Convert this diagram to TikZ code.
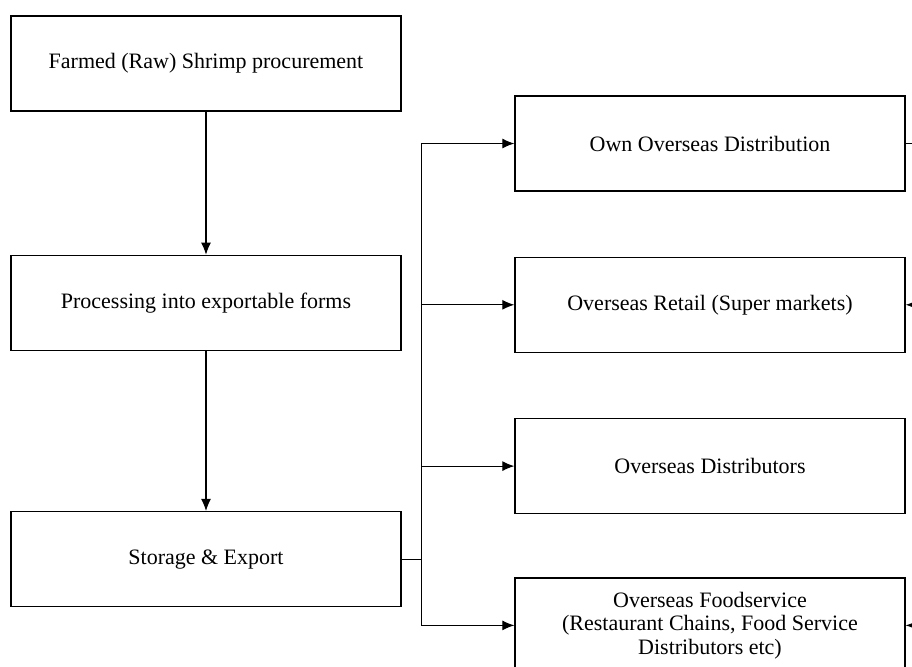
\documentclass[tikz,border=0pt]{standalone}
\usepackage{fontspec}
\setmainfont{Liberation Serif}
\usetikzlibrary{positioning, arrows.meta}

\begin{document}
\begin{tikzpicture}[node distance=32.5pt, >={Latex[length=6pt,width=5pt]}, line width=0.55pt,
    stage/.style={draw, rectangle, line width=0.65pt, minimum width=195pt, minimum height=47.5pt,
      inner sep=0pt, align=center, font=\fontsize{11}{11.8}\selectfont}]
    \useasboundingbox (0,0) rectangle (456pt,-333pt);
    \clip (0,0) rectangle (456pt,-333pt);

    % supply chain at home
    \node [stage] (farm) at (103pt,-31.75pt) {Farmed (Raw) Shrimp procurement};
    \node [stage, below=71.5pt of farm] (proc) {Processing into exportable forms};
    \node [stage, below=80pt of proc] (store) {Storage \& Export};

    % overseas channels
    \node [stage] (own) at (355pt,-71.75pt) {Own Overseas Distribution};
    \node [stage, below=32.5pt of own] (retail) {Overseas Retail (Super markets)};
    \node [stage, below=32.5pt of retail] (dist) {Overseas Distributors};
    \node [stage, below=31.5pt of dist] (food) {Overseas Foodservice\\(Restaurant Chains, Food Service\\Distributors etc)};

    \draw [->] (farm) -- (proc);
    \draw [->] (proc) -- (store);

    % export bus
    \draw (store.east) -- ++(10pt,0) coordinate (bus);
    \foreach \ch in {own, retail, dist, food}
        \draw [->] (bus) |- (\ch.west);

    % own distribution feeding back on the right
    \draw (own.east) -- ++(15pt,0) coordinate (back);
    \draw [->] (back) |- (retail.east);
    \draw [->] (back) |- (food.east);
\end{tikzpicture}
\end{document}
